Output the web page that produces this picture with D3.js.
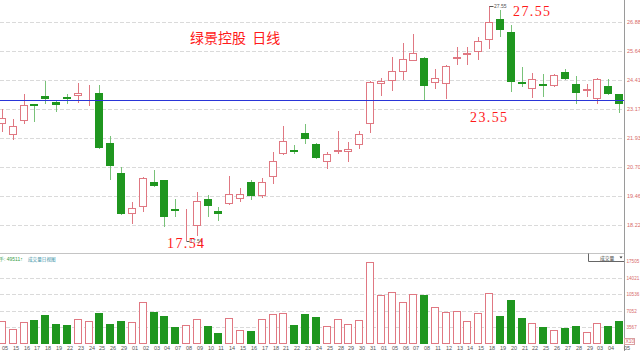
<!DOCTYPE html>
<html>
<head>
<meta charset="utf-8">
<script src="https://cdn.jsdelivr.net/npm/d3@7/dist/d3.min.js"></script>
<style>
  html, body { margin: 0; padding: 0; background: #fff; overflow: hidden; }
  svg { display: block; }
</style>
</head>
<body>
<div id="chart"></div>
<script>
// Trading days (2016), month-day
var dates = ['02-05',
  '02-15', '02-16', '02-17', '02-18', '02-19',
  '02-22', '02-23', '02-24', '02-25', '02-26',
  '02-29', '03-01', '03-02', '03-03', '03-04',
  '03-07', '03-08', '03-09', '03-10', '03-11',
  '03-14', '03-15', '03-16', '03-17', '03-18',
  '03-21', '03-22', '03-23', '03-24', '03-25',
  '03-28', '03-29', '03-30', '03-31', '04-01',
  '04-05', '04-06', '04-07', '04-08',
  '04-11', '04-12', '04-13', '04-14', '04-15',
  '04-18', '04-19', '04-20', '04-21', '04-22',
  '04-25', '04-26', '04-27', '04-28', '04-29',
  '05-03', '05-04', '05-05'];

var opens = [22.52, 22.06, 22.67, 23.38, 23.71, 23.47, 23.67, 23.74, 23.82, 23.85,
  21.72, 20.43, 18.69, 19.00, 20.04, 20.13, 18.89, 18.80, 18.19, 19.33,
  18.82, 19.10, 19.34, 20.04, 19.47, 20.25, 21.24, 21.43, 22.13, 21.69,
  20.91, 21.33, 21.35, 21.63, 22.53, 24.22, 24.38, 24.75, 25.22, 25.33,
  24.26, 24.22, 25.29, 25.49, 25.59, 26.11, 27.00, 26.47, 24.32, 24.01,
  24.22, 24.15, 24.73, 24.23, 23.94, 23.58, 24.15, 23.80];
var highs = [23.16, 22.74, 23.80, 23.40, 24.38, 23.55, 23.81, 24.26, 24.18, 24.19,
  22.03, 20.71, 19.21, 20.27, 20.57, 20.15, 19.32, 18.90, 19.61, 19.50,
  18.97, 20.31, 19.79, 20.14, 20.21, 21.32, 22.44, 21.63, 22.53, 21.73,
  21.32, 22.22, 21.75, 22.23, 24.35, 24.48, 25.40, 26.00, 26.37, 25.40,
  24.86, 25.05, 25.80, 25.83, 26.25, 27.55, 27.39, 26.75, 24.97, 24.72,
  24.66, 24.66, 24.86, 24.58, 24.23, 24.49, 24.44, 23.81];
var lows = [22.17, 21.85, 22.53, 22.63, 23.37, 23.05, 23.38, 23.44, 23.30, 21.47,
  20.14, 18.65, 18.25, 18.79, 19.85, 18.12, 18.55, 17.54, 17.76, 18.55,
  18.39, 19.08, 19.19, 19.29, 19.38, 19.96, 21.22, 21.24, 21.66, 21.02,
  20.62, 21.24, 20.92, 21.45, 22.13, 23.72, 23.95, 24.41, 25.20, 23.55,
  24.01, 23.60, 25.03, 25.05, 25.26, 25.72, 26.23, 23.91, 24.09, 23.65,
  23.69, 24.09, 24.41, 23.38, 23.67, 23.37, 23.77, 23.01];
var closes = [22.77, 22.44, 23.34, 23.30, 23.60, 23.33, 23.60, 23.84, 23.84, 21.49,
  20.72, 18.68, 18.93, 20.21, 19.90, 18.57, 18.85, 18.82, 19.24, 19.03,
  18.69, 19.56, 19.53, 19.47, 20.05, 20.94, 21.79, 21.38, 21.88, 21.06,
  21.24, 21.42, 21.45, 22.09, 24.33, 24.36, 24.79, 25.29, 25.55, 24.15,
  24.48, 25.00, 25.37, 25.57, 26.08, 26.87, 26.54, 24.33, 24.22, 24.45,
  24.18, 24.61, 24.44, 23.84, 24.02, 24.45, 23.81, 23.38];

// volume, in units of 10 lots
var volumes = [4787, 3100, 4577, 5125, 6116, 4282, 3944, 5209, 4787, 6475,
  4218, 4787, 4577, 8921, 6686, 5968, 3585, 3944, 5209, 3733,
  2257, 5483, 2953, 2742, 5209, 6264, 6538, 4007, 6327, 5694,
  3796, 5209, 4155, 4998, 17294, 10271, 10904, 8794, 10482, 10271,
  7803, 6749, 6897, 4787, 6475, 10693, 5842, 9280, 5483, 4366,
  3585, 2953, 3311, 3733, 2468, 4429, 3796, 4951.1];

var priceTicks = [18.22, 19.46, 20.70, 21.93, 23.17, 24.41, 25.64, 26.88];
var volumeTicks = [3567, 7052, 10536, 14021, 17505];
var refPrice = 23.55;
var titleText = '绿景控股  日线';

(function() {
  var width = 640, height = 351,
      axisX = 624.5,
      red = '#e07882',
      green = '#1f961f',
      greenLine = '#79c279',
      grid = '#dadada';

  var svg = d3.select('#chart').append('svg')
      .attr('width', width)
      .attr('height', height)
      .style('font-family', '"Liberation Sans", Arial, sans-serif');

  var x = d3.scalePoint().domain(dates).range([2, 619]);
  var y = d3.scaleLinear().domain([18.22, 26.88]).range([225, 22]);
  var yv = d3.scaleLinear().domain([0, 17505]).range([344, 261]);

  var cx = function(i) { return Math.round(x(dates[i])); };
  var crisp = function(v) { return Math.round(v) + 0.5; };

  // price grid
  svg.append('g').selectAll('line').data(priceTicks)
    .enter().append('line')
      .attr('x1', 0).attr('x2', axisX)
      .attr('y1', function(d) { return crisp(y(d)); })
      .attr('y2', function(d) { return crisp(y(d)); })
      .attr('stroke', grid)
      .attr('stroke-dasharray', '4,2');

  // volume grid
  svg.append('g').selectAll('line').data(volumeTicks.slice(0, 4))
    .enter().append('line')
      .attr('x1', 0).attr('x2', axisX)
      .attr('y1', function(d) { return crisp(yv(d)); })
      .attr('y2', function(d) { return crisp(yv(d)); })
      .attr('stroke', grid)
      .attr('stroke-dasharray', '4,2');

  // panel separator
  svg.append('line')
      .attr('x1', 0).attr('x2', axisX)
      .attr('y1', 253.5).attr('y2', 253.5)
      .attr('stroke', '#c4c4c4');

  var idx = d3.range(dates.length);
  var isUp = function(i) { return closes[i] >= opens[i]; };

  // candles
  var candles = svg.append('g').selectAll('g').data(idx)
    .enter().append('g');

  candles.append('line')
      .attr('x1', function(i) { return cx(i) + 0.5; })
      .attr('x2', function(i) { return cx(i) + 0.5; })
      .attr('y1', function(i) { return Math.round(y(highs[i])); })
      .attr('y2', function(i) { return Math.round(y(lows[i])); })
      .attr('stroke', function(i) { return isUp(i) ? red : greenLine; });

  candles.append('rect')
      .attr('x', function(i) { return isUp(i) ? cx(i) - 3.5 : cx(i) - 4; })
      .attr('y', function(i) {
        var t = Math.round(y(Math.max(opens[i], closes[i])));
        return isUp(i) ? t + 0.5 : t;
      })
      .attr('width', function(i) { return isUp(i) ? 7 : 8; })
      .attr('height', function(i) {
        var t = Math.round(y(Math.max(opens[i], closes[i]))),
            b = Math.round(y(Math.min(opens[i], closes[i])));
        return isUp(i) ? Math.max(0, b - t - 1) : Math.max(2, b - t);
      })
      .attr('fill', function(i) { return isUp(i) ? '#fff' : green; })
      .attr('stroke', function(i) { return isUp(i) ? red : 'none'; });

  // reference line
  svg.append('line')
      .attr('x1', 0).attr('x2', axisX)
      .attr('y1', crisp(y(refPrice))).attr('y2', crisp(y(refPrice)))
      .attr('stroke', '#2a35d8');

  // volume bars
  svg.append('g').selectAll('rect').data(idx)
    .enter().append('rect')
      .attr('x', function(i) { return isUp(i) ? cx(i) - 3.5 : cx(i) - 4; })
      .attr('y', function(i) {
        return isUp(i) ? Math.round(yv(volumes[i])) + 0.5 : Math.round(yv(volumes[i]));
      })
      .attr('width', function(i) { return isUp(i) ? 7 : 8; })
      .attr('height', function(i) {
        var h = 344 - Math.round(yv(volumes[i]));
        return isUp(i) ? h - 1 : h;
      })
      .attr('fill', function(i) { return isUp(i) ? '#fff' : green; })
      .attr('stroke', function(i) { return isUp(i) ? red : 'none'; });

  // right axis line
  svg.append('line')
      .attr('x1', axisX).attr('x2', axisX)
      .attr('y1', 0).attr('y2', height)
      .attr('stroke', '#9a9a9a');

  // price labels
  svg.append('g').selectAll('text').data(priceTicks)
    .enter().append('text')
      .attr('x', 627)
      .attr('y', function(d) { return y(d) + 2; })
      .attr('font-size', 5.5)
      .attr('fill', '#d86a6a')
      .text(function(d) { return d.toFixed(2); });

  // volume labels
  svg.append('g').selectAll('text').data(volumeTicks)
    .enter().append('text')
      .attr('x', 626.5)
      .attr('y', function(d) { return yv(d) + 2; })
      .attr('font-size', 4.6)
      .attr('fill', '#d86a6a')
      .text(function(d) { return d; });

  svg.append('rect')
      .attr('x', 624.5).attr('y', 338.5)
      .attr('width', 10).attr('height', 6)
      .attr('fill', '#fff').attr('stroke', '#d9a0a0');
  svg.append('text')
      .attr('x', 625.5).attr('y', 343.3)
      .attr('font-size', 5)
      .attr('fill', '#d86a6a')
      .text('X10');

  // date labels
  svg.append('g').selectAll('text').data(idx)
    .enter().append('text')
      .attr('x', function(i) { return i === dates.length - 1 ? 627 : cx(i) + 3; })
      .attr('y', 350)
      .attr('text-anchor', 'middle')
      .attr('font-size', 5.5)
      .attr('fill', '#555')
      .text(function(i) { return dates[i].slice(3); });

  // volume header
  svg.append('text')
      .attr('x', -1).attr('y', 261)
      .attr('font-size', 5)
      .attr('fill', '#3aa04a')
      .text('手: ' + Math.round(volumes[volumes.length - 1] * 10) + '↑');
  svg.append('text')
      .attr('x', 28).attr('y', 261)
      .attr('font-family', '"Noto Sans CJK SC", sans-serif')
      .attr('font-size', 4.6)
      .attr('fill', '#3a93a8')
      .text('成交量日视图');

  // volume selector box
  svg.append('path')
      .attr('d', 'M588.5,253.5 V261.5 H624')
      .attr('fill', 'none')
      .attr('stroke', '#666');
  svg.append('text')
      .attr('x', 600).attr('y', 259.5)
      .attr('font-family', '"Noto Sans CJK SC", sans-serif')
      .attr('font-size', 4.8)
      .attr('fill', '#444')
      .text('成交量');
  svg.append('path')
      .attr('d', 'M619.5,256.5 h3 l-1.5,2 z')
      .attr('fill', '#333');

  // title
  svg.append('text')
      .attr('x', 190).attr('y', 43)
      .attr('font-family', '"Noto Sans CJK SC", sans-serif')
      .attr('font-size', 14)
      .attr('fill', '#ff1a1a')
      .style('white-space', 'pre')
      .text(titleText);

  // extreme markers
  var hiIdx = d3.maxIndex(highs), loIdx = d3.minIndex(lows);
  var marks = [
    {i: hiIdx, v: highs[hiIdx], dx: 4, big: [513, 16]},
    {i: loIdx, v: lows[loIdx], dx: 3, big: [167, 248]}
  ];
  marks.forEach(function(m) {
    var px = cx(m.i) + 0.5, py = crisp(y(m.v));
    svg.append('line')
        .attr('x1', px).attr('x2', px + m.dx)
        .attr('y1', py).attr('y2', py)
        .attr('stroke', '#555');
    svg.append('text')
        .attr('x', px + m.dx + 0.5).attr('y', py + 1.8)
        .attr('font-size', 5)
        .attr('fill', '#555')
        .text(m.v.toFixed(2));
    svg.append('text')
        .attr('x', m.big[0]).attr('y', m.big[1])
        .attr('font-family', '"Liberation Serif", "DejaVu Serif", serif')
        .attr('font-size', 14)
        .attr('letter-spacing', 1.4)
        .attr('fill', '#ff1a1a')
        .text(m.v.toFixed(2));
  });

  svg.append('text')
      .attr('x', 470).attr('y', 122)
      .attr('font-family', '"Liberation Serif", "DejaVu Serif", serif')
      .attr('font-size', 14)
      .attr('letter-spacing', 1.4)
      .attr('fill', '#ff1a1a')
      .text(refPrice.toFixed(2));
})();
</script>
</body>
</html>
